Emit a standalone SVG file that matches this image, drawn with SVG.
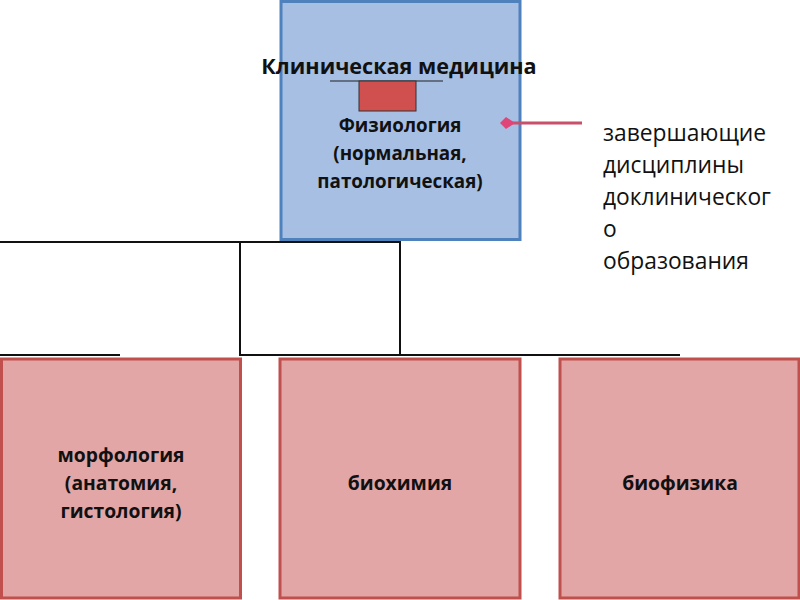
<svg xmlns="http://www.w3.org/2000/svg" width="800" height="600" viewBox="0 0 800 600">
<defs>
<style>
.t{font-family:"Open Sans","DejaVu Sans",sans-serif;font-weight:bold;fill:#111;text-anchor:middle}
.pink{fill:#e2a6a6;stroke:#c0504d;stroke-width:3}
.ln{stroke:#111;stroke-width:2;fill:none}
.side{font-family:"Open Sans","DejaVu Sans",sans-serif;font-size:22.8px;fill:#111}
</style>
<marker id="ah" viewBox="0 0 10 10" refX="2" refY="5" markerWidth="5" markerHeight="5" orient="auto">
<path d="M0,5 L6,1 L10,5 L6,9 Z" fill="#e0457a"/>
</marker>
</defs>
<rect width="800" height="600" fill="#fff"/>
<g id="connectors">
<line class="ln" x1="0" y1="242" x2="400" y2="242"/>
<rect class="ln" x="240" y="242" width="160" height="113"/>
<line class="ln" x1="240" y1="355" x2="680" y2="355"/>
<line class="ln" x1="0" y1="355" x2="120" y2="355"/>
</g>
<g id="clinical">
<rect x="281" y="1.5" width="239" height="238" fill="#a7bfe3" stroke="#4f81bd" stroke-width="3"/>
<text class="t" x="399" y="74" font-size="21.6">Клиническая медицина</text>
<line x1="330" y1="81" x2="443" y2="81" stroke="#222" stroke-width="1.2"/>
<rect x="359" y="81" width="57" height="30" fill="#d04f4f" stroke="#333" stroke-width="1"/>
<text class="t" x="400" y="132" font-size="18.8">Физиология</text>
<text class="t" x="400" y="160" font-size="18.8">(нормальная,</text>
<text class="t" x="400" y="188" font-size="18.8">патологическая)</text>
</g>
<g id="arrow">
<line x1="582" y1="123" x2="512" y2="123" stroke="#c8506a" stroke-width="3" marker-end="url(#ah)"/>
</g>
<g id="note">
<text class="side" x="603" y="141">завершающие</text>
<text class="side" x="603" y="173">дисциплины</text>
<text class="side" x="603" y="205">доклиническог</text>
<text class="side" x="603" y="237">о</text>
<text class="side" x="603" y="269">образования</text>
</g>
<g id="morph">
<rect class="pink" x="1.5" y="359" width="239" height="239"/>
<text class="t" x="121" y="462" font-size="19.3">морфология</text>
<text class="t" x="121" y="490" font-size="19.3">(анатомия,</text>
<text class="t" x="121" y="518" font-size="19.3">гистология)</text>
</g>
<g id="biochem">
<rect class="pink" x="280" y="359" width="240" height="239"/>
<text class="t" x="400" y="490" font-size="19.3">биохимия</text>
</g>
<g id="biophys">
<rect class="pink" x="560" y="359" width="239" height="239"/>
<text class="t" x="680" y="490" font-size="19.3">биофизика</text>
</g>
</svg>
